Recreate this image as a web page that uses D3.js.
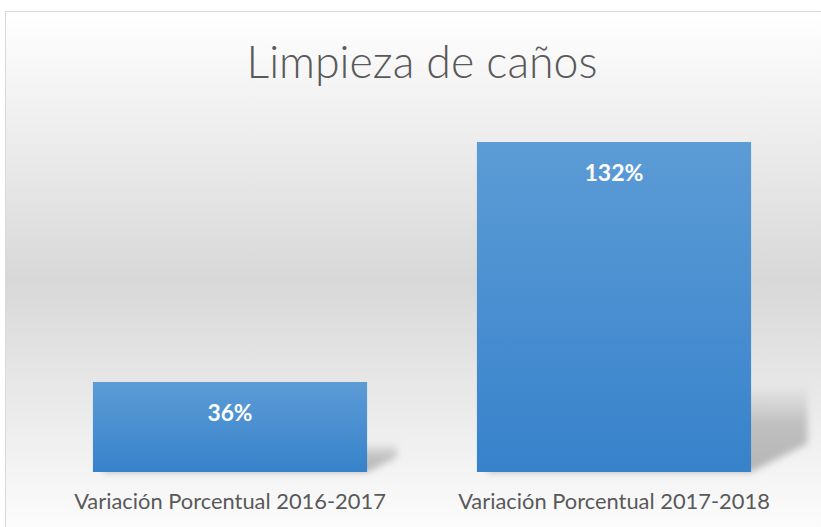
<!DOCTYPE html>
<html>
  <head>
    <meta charset="UTF-8">
    <title>Limpieza de caños</title>
    <script src="https://d3js.org/d3.v7.min.js"></script>
    <style type="text/css">
      body { margin: 0px; padding: 0px; background: #fff; }
      svg { display: block; }
      text { font-family: Lato, "Open Sans", sans-serif; }
    </style>
  </head>
  <body>
    <div id="chart"></div>
    <script>
      const chartTitle = 'Limpieza de caños';
      const categories = ['Variación Porcentual 2016-2017', 'Variación Porcentual 2017-2018'];
      const values = [0.36, 1.32];
      const valueLabels = ['36%', '132%'];

      const width = 821, height = 527;
      const svg = d3.select('#chart').append('svg')
        .attr('width', width)
        .attr('height', height);

      const defs = svg.append('defs');

      // chart area background: white -> grey -> white
      const bg = defs.append('linearGradient').attr('id', 'bg-grad')
        .attr('x1', 0).attr('y1', 0).attr('x2', 0).attr('y2', 1);
      bg.append('stop').attr('offset', '0%').attr('stop-color', '#ffffff');
      bg.append('stop').attr('offset', '50%').attr('stop-color', '#d8d8d8');
      bg.append('stop').attr('offset', '100%').attr('stop-color', '#ffffff');

      const barGrad = defs.append('linearGradient').attr('id', 'bar-grad')
        .attr('x1', 0).attr('y1', 0).attr('x2', 0).attr('y2', 1);
      barGrad.append('stop').attr('offset', '0%').attr('stop-color', '#5c9cd6');
      barGrad.append('stop').attr('offset', '100%').attr('stop-color', '#3782cb');

      const shGrad = defs.append('linearGradient').attr('id', 'shadow-grad')
        .attr('x1', 0).attr('y1', 0).attr('x2', 0).attr('y2', 1);
      shGrad.append('stop').attr('offset', '0%').attr('stop-color', '#9a9a9a').attr('stop-opacity', 0);
      shGrad.append('stop').attr('offset', '45%').attr('stop-color', '#9a9a9a').attr('stop-opacity', 0.55);
      shGrad.append('stop').attr('offset', '100%').attr('stop-color', '#9a9a9a').attr('stop-opacity', 0.7);

      defs.append('filter').attr('id', 'blur')
        .attr('x', '-30%').attr('y', '-30%').attr('width', '160%').attr('height', '160%')
        .append('feGaussianBlur').attr('stdDeviation', 3.5);

      svg.append('rect')
        .attr('x', 5.5).attr('y', 11.5)
        .attr('width', width + 10).attr('height', height + 10)
        .attr('fill', 'url(#bg-grad)')
        .attr('stroke', '#d9d9d9');

      const x = d3.scaleBand()
        .domain(categories)
        .range([38, 806])
        .paddingInner(0.286)
        .paddingOuter(0.143);

      const y = d3.scaleLinear()
        .domain([0, 1.4])
        .range([472, 122]);

      // size text so that it spans a given width
      function fitText(sel, target) {
        const w = sel.node().getComputedTextLength();
        const fs = parseFloat(sel.attr('font-size'));
        sel.attr('font-size', fs * target / w);
      }

      const data = categories.map((c, i) => ({ cat: c, value: values[i], label: valueLabels[i] }));

      // perspective shadows behind the bars
      svg.append('g').selectAll('path')
        .data(data).enter().append('path')
        .attr('d', d => {
          const x1 = x(d.cat), x2 = x1 + x.bandwidth();
          const h = y(0) - y(d.value);
          const dx = 20 + 0.11 * h;
          const sh = 8 + 0.24 * h;
          const b = y(0);
          return `M${x1 + 10},${b} L${x2},${b} L${x2 + dx},${b - dx * 0.5} L${x2 + dx},${b - sh} L${x1 + 10},${b - sh} Z`;
        })
        .attr('fill', 'url(#shadow-grad)')
        .attr('filter', 'url(#blur)');

      svg.append('g').selectAll('rect')
        .data(data).enter().append('rect')
        .attr('x', d => x(d.cat))
        .attr('y', d => y(d.value))
        .attr('width', x.bandwidth())
        .attr('height', d => y(0) - y(d.value))
        .attr('fill', 'url(#bar-grad)');

      svg.append('g').selectAll('text')
        .data(data).enter().append('text')
        .attr('x', d => x(d.cat) + x.bandwidth() / 2)
        .attr('y', d => y(d.value) + 39)
        .attr('text-anchor', 'middle')
        .attr('font-size', 22)
        .attr('font-weight', 'bold')
        .attr('fill', '#ffffff')
        .text(d => d.label)
        .each(function(d) { fitText(d3.select(this), d.label.length > 3 ? 59 : 45); });

      // category axis labels
      svg.append('g').selectAll('text')
        .data(categories).enter().append('text')
        .attr('x', d => x(d) + x.bandwidth() / 2)
        .attr('y', 509)
        .attr('text-anchor', 'middle')
        .attr('font-size', 20)
        .attr('fill', '#595959')
        .text(d => d)
        .each(function() { fitText(d3.select(this), 312); });

      const title = svg.append('text')
        .attr('x', 422)
        .attr('y', 78)
        .attr('text-anchor', 'middle')
        .attr('font-size', 40)
        .attr('font-weight', 300)
        .attr('fill', '#595959')
        .text(chartTitle);
      fitText(title, 351);
    </script>
  </body>
</html>
